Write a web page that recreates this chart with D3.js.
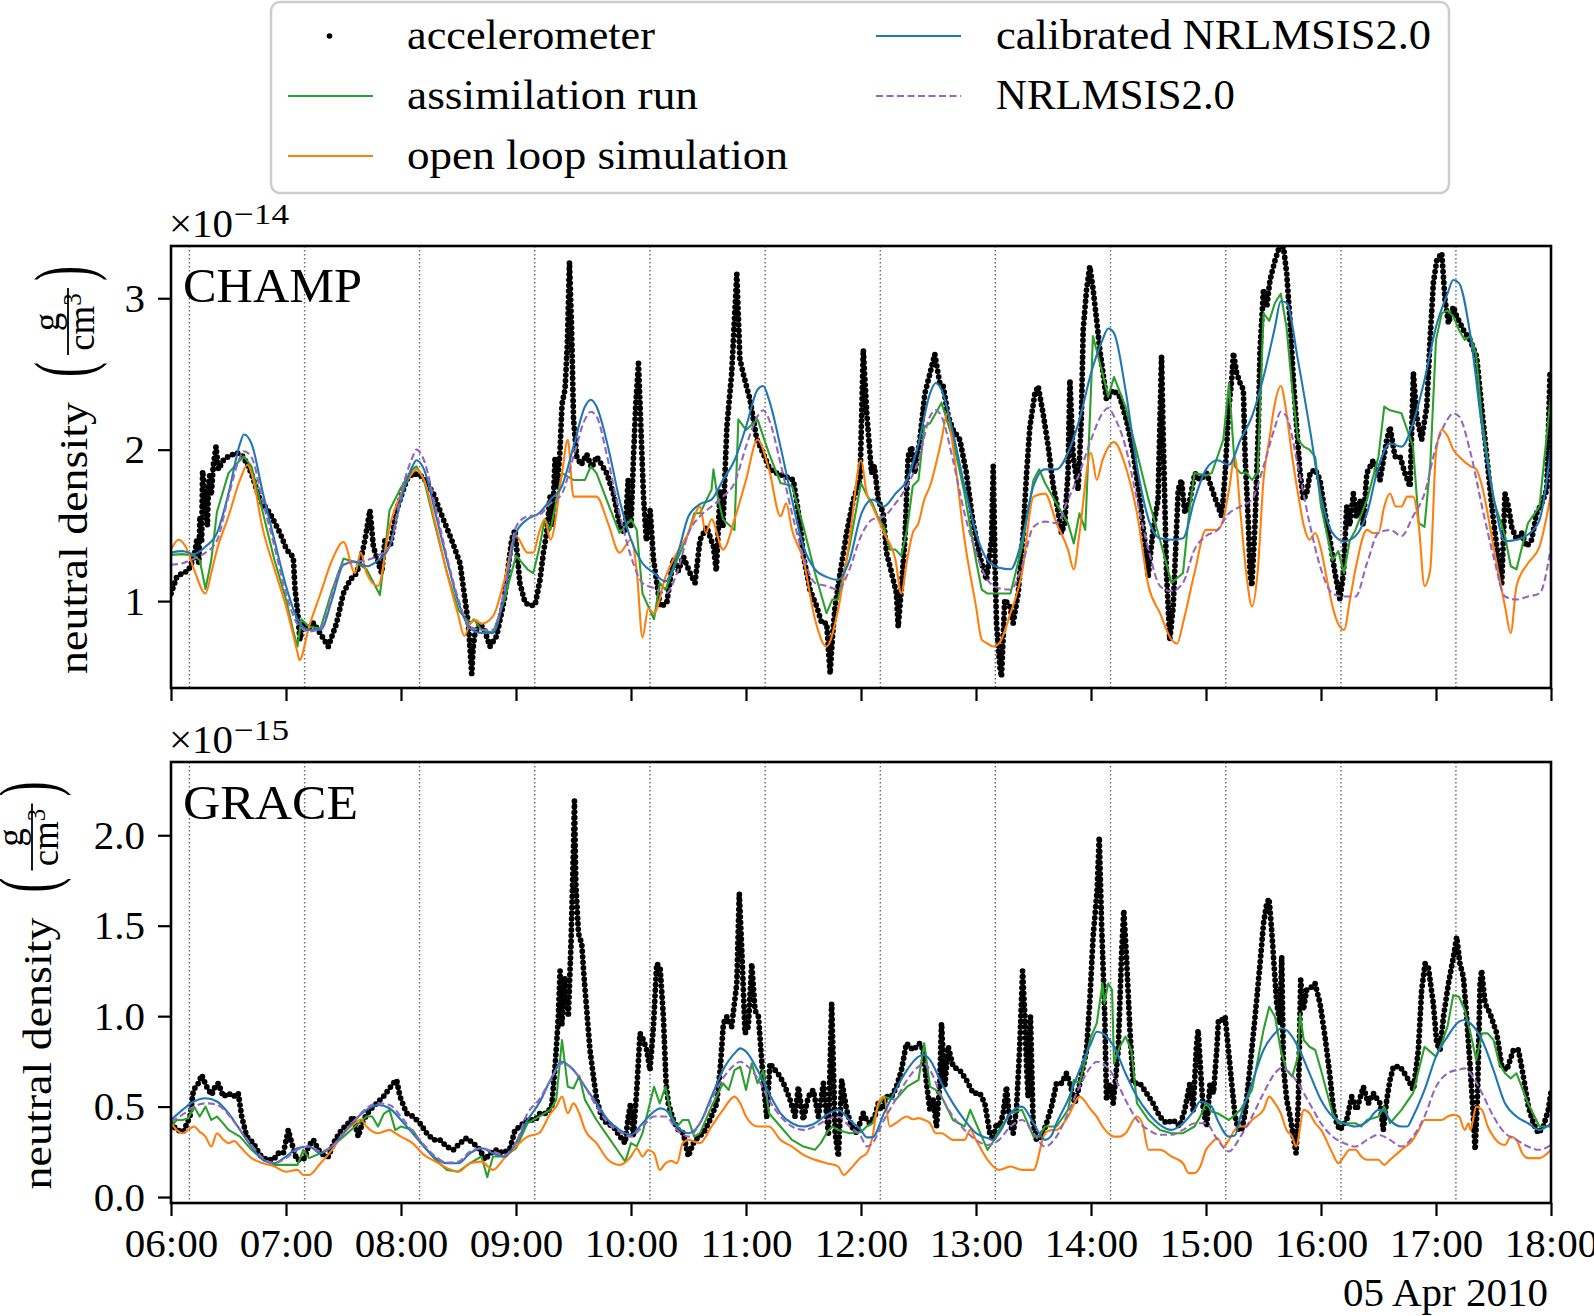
<!DOCTYPE html>
<html><head><meta charset="utf-8">
<script src="https://cdn.jsdelivr.net/npm/d3@7"></script>
<style>
html,body{margin:0;padding:0;background:#fff;}
svg{display:block;font-family:"Liberation Serif","DejaVu Serif",serif;}
</style></head><body>
<svg id="chart" width="1594" height="1316"></svg>
<script>
// ---------------- DATA (time in minutes after 06:00 UTC, 05 Apr 2010) ----------------
const xTickMinutes = [0,60,120,180,240,300,360,420,480,540,600,660,720];
const xTickLabels = ["06:00","07:00","08:00","09:00","10:00","11:00","12:00","13:00","14:00","15:00","16:00","17:00","18:00"];
const dateLabel = "05 Apr 2010";
const orbitMarks = [9.6,69.7,129.7,189.8,249.9,310.0,370.1,430.1,490.2,550.3,610.4,670.4];

const champYTicks = [1,2,3];
const champYTickLabels = ["1","2","3"];
const graceYTicks = [0,0.5,1.0,1.5,2.0];
const graceYTickLabels = ["0.0","0.5","1.0","1.5","2.0"];

const legendLabels = ["accelerometer","assimilation run","open loop simulation","calibrated NRLMSIS2.0","NRLMSIS2.0"];
const seriesColors = {acc:"#000000", assim:"#2ca02c", open:"#ff7f0e", cal:"#1f77b4", msis:"#9467bd"};

// CHAMP (x 1e-14 g/cm3)
const champAccelerometer = [[0,1.05],[3,1.16],[6,1.185],[9,1.20],[12,1.29],[13.4,1.40],[14.5,1.25],[15.1,1.56],[16,1.4],[16.5,1.86],[17.9,1.65],[19,1.5],[19.5,1.75],[20.3,1.845],[21,1.7],[22.1,1.90],[23.5,2.02],[24.7,1.87],[27.3,1.93],[29.9,1.955],[34.3,1.98],[37.7,1.955],[41.9,1.845],[46.4,1.67],[51.6,1.58],[56.9,1.45],[60.3,1.34],[63.8,1.29],[64.7,1.08],[65.9,0.95],[67.3,0.745],[69,0.85],[70.8,0.81],[74.3,0.855],[77.7,0.79],[82.1,0.70],[86.4,0.855],[89.9,1.05],[93.4,1.14],[96.9,1.185],[99.5,1.30],[101.2,1.405],[103.8,1.60],[105.6,1.36],[108.2,1.25],[109.9,1.185],[111.6,1.40],[114.3,1.36],[117.7,1.60],[122.9,1.80],[126.4,1.845],[131.6,1.82],[136.9,1.71],[142.1,1.54],[146.4,1.405],[150.8,1.25],[153.4,1.01],[155.1,0.855],[156.9,0.52],[157.7,0.70],[158.6,0.79],[161.2,0.855],[163.8,0.80],[166.4,0.70],[169.9,0.77],[173.9,1.01],[177.7,1.405],[179.5,1.47],[182,1.12],[184.7,0.99],[187.3,0.97],[190,0.975],[192.5,1.14],[194.3,1.32],[196,1.45],[197.8,1.69],[199,1.5],[200.4,1.95],[201.5,1.75],[203,2.0],[204,2.3],[205.6,2.4],[206.8,2.7],[207.9,3.24],[209,2.8],[210,2.2],[211.7,1.955],[214,1.9],[216.9,1.97],[219.5,1.88],[222.1,1.955],[224.7,1.9],[227.3,1.845],[230.8,1.71],[234.3,1.49],[236.9,1.45],[238.5,1.8],[240,1.5],[241.3,1.95],[242.5,2.3],[243.9,2.57],[245,2.2],[246.5,1.7],[248,1.4],[250,1.6],[251.7,1.28],[255.2,0.965],[258.6,0.985],[262.1,1.28],[264.7,1.2],[267.3,1.295],[270.8,1.185],[273.4,1.12],[276,1.405],[279.5,1.49],[283,1.36],[284.5,1.2],[286.5,1.73],[288,1.5],[290,2.15],[292.5,2.5],[295.2,3.16],[296.8,2.6],[298.6,2.50],[302.1,2.33],[305.6,2.07],[309,1.975],[312.5,1.87],[316,1.845],[321.2,1.82],[324.7,1.80],[328.2,1.515],[330,1.295],[333.4,1.075],[336.9,0.965],[339.5,0.855],[342.1,0.855],[343.9,0.52],[345.2,0.78],[346.5,0.965],[349.1,1.185],[352.5,1.45],[356,1.67],[359.5,1.80],[361.2,2.66],[363,2.24],[365.5,1.845],[367,1.89],[369,1.67],[371.6,1.58],[373.3,1.32],[376,1.185],[378.5,1.05],[379.4,0.83],[381,1.075],[382.9,1.405],[384.6,1.955],[386.4,2.02],[388,1.845],[390.7,2.065],[393.3,2.37],[396,2.505],[398.5,2.63],[401.1,2.44],[402.9,2.42],[405.5,2.22],[408.1,2.13],[411.6,2.065],[415,1.845],[418.5,1.515],[422,1.295],[425.5,1.14],[428.1,1.405],[429,1.89],[430,1.2],[430.7,0.855],[432.4,0.57],[433.3,0.50],[435,1.01],[437.7,0.965],[439.4,0.855],[442,1.05],[444.6,1.45],[446.4,1.845],[448.1,2.15],[450.7,2.37],[452.4,2.42],[455,2.24],[457.7,2.02],[460.3,1.76],[462,1.65],[464.6,1.45],[466.3,1.515],[468,1.845],[469,2.46],[470.7,1.955],[473.3,1.735],[475,2.22],[475.9,2.79],[477.7,3.06],[479.4,3.21],[481.1,3.06],[482.9,2.86],[484.6,2.66],[486.3,2.505],[488.1,2.33],[491.6,2.395],[495,2.35],[498.5,2.195],[502,1.98],[505.5,1.67],[508,1.405],[509.8,1.16],[512.4,1.47],[515,1.67],[516.8,2.615],[517.7,2.07],[519.4,1.185],[521.1,0.745],[522.9,0.965],[525.5,1.735],[527.2,1.80],[529,1.58],[531.6,1.67],[534.2,1.845],[536.8,1.80],[540.4,1.845],[543.9,1.71],[548.2,1.56],[550,1.845],[551.7,2.24],[553.4,2.46],[554.3,2.64],[556,2.505],[557.8,2.44],[559.5,2.395],[560.4,1.955],[562.1,1.515],[563,1.185],[563.9,1.10],[565.6,1.515],[567.3,2.15],[568.2,2.66],[570,3.06],[571.7,2.945],[573.4,3.12],[576,3.25],[577.8,3.32],[580.4,3.34],[582.1,3.165],[583.9,2.835],[585.6,2.46],[587.3,2.15],[589.1,1.845],[590.8,1.67],[592.5,1.71],[594.3,1.845],[596.9,1.87],[599.5,1.80],[602.1,1.58],[604.7,1.405],[607.3,1.185],[609.9,1.01],[611.7,1.185],[613.4,1.625],[615,1.5],[616.9,1.71],[618.5,1.55],[620.4,1.67],[622,1.5],[623.9,1.845],[627.3,1.93],[630.8,1.80],[634.3,2.065],[636,2.15],[638.6,1.955],[641.2,1.955],[643.8,1.845],[646.5,1.755],[648.2,2.505],[649.9,2.22],[652.5,2.065],[655.2,2.285],[656.9,2.725],[658.6,3.10],[660.4,3.25],[663,3.30],[664.7,2.99],[666.5,2.835],[669.1,2.945],[670.8,2.88],[674.3,2.79],[677.8,2.725],[681.2,2.615],[683.8,2.285],[686.5,1.955],[689.1,1.625],[691.7,1.36],[694.3,1.12],[696,1.71],[697.8,1.625],[699.5,1.49],[702.1,1.405],[704.7,1.45],[707.3,1.36],[709.9,1.405],[712.5,1.58],[715.1,1.645],[717.8,1.735],[719.5,2.505]];
const champAssimilation = [[0,1.305],[6,1.31],[12,1.30],[15,1.27],[18,1.08],[21,1.27],[24,1.59],[30,1.845],[36,1.93],[38,1.955],[42,1.89],[48,1.58],[54,1.27],[60,1.01],[64,0.79],[66,0.70],[68,0.88],[72,0.83],[78,0.82],[84,1.07],[90,1.28],[96,1.26],[102,1.21],[109,1.04],[111,1.25],[114,1.60],[120,1.75],[126,1.87],[128,1.89],[132,1.80],[138,1.49],[144,1.185],[150,0.94],[156,0.85],[158,0.88],[162,0.81],[168,0.79],[174,1.01],[180,1.30],[186,1.21],[189,1.185],[192,1.34],[195,1.54],[198,1.47],[204,1.845],[210,1.80],[216,1.80],[219,1.89],[222,1.845],[228,1.645],[234,1.45],[240,1.54],[243,1.47],[246,1.05],[252,0.88],[255,1.12],[258,1.075],[264,1.27],[270,1.45],[273,1.58],[276,1.58],[282,1.735],[283,1.87],[285,1.70],[288,1.54],[294,1.47],[296,2.20],[300,2.13],[306,2.20],[312,1.975],[318,1.78],[324,1.76],[330,1.49],[336,1.185],[342,0.92],[345,1.01],[348,1.01],[354,1.36],[360,1.78],[363,1.70],[366,1.645],[369,1.55],[372,1.49],[375,1.34],[378,1.34],[381,1.30],[384,1.47],[387,1.76],[390,1.80],[393,2.15],[396,2.175],[399,2.24],[402,2.31],[408,2.065],[414,1.71],[420,1.27],[423,1.075],[426,1.05],[432,1.05],[438,1.05],[444,1.36],[450,1.80],[453,1.87],[456,1.78],[462,1.645],[468,1.515],[471,1.38],[474,1.58],[477,1.47],[480,2.395],[481,2.75],[486,2.505],[489,2.35],[492,2.48],[498,2.285],[504,1.98],[510,1.67],[516,1.405],[522,1.12],[528,1.185],[531,1.56],[534,1.845],[540,1.83],[543,1.845],[546,1.955],[549,2.065],[552,2.44],[555,1.89],[558,1.845],[561,1.85],[564,1.80],[567,1.845],[570,2.90],[573,2.85],[576,2.97],[579,3.03],[582,2.81],[585,2.40],[588,2.065],[591,2.02],[594,2.0],[597,1.95],[600,1.625],[603,1.45],[606,1.27],[609,1.33],[612,1.185],[615,1.40],[618,1.47],[624,1.67],[630,1.955],[633,2.285],[636,2.26],[642,2.24],[648,2.02],[651,1.515],[654,1.49],[657,1.90],[660,2.725],[663,2.90],[666,2.92],[669,2.88],[672,2.79],[675,2.725],[678,2.75],[681,2.62],[684,2.195],[690,1.67],[696,1.43],[699,1.23],[702,1.21],[708,1.515],[714,1.625],[720,2.37]];
const champOpenLoop = [[0,1.34],[4,1.405],[8,1.35],[12,1.21],[18,1.05],[21,1.185],[24,1.34],[30,1.56],[36,1.80],[40,1.90],[42,1.845],[48,1.47],[54,1.21],[60,0.965],[66,0.66],[67,0.61],[72,0.83],[78,1.05],[84,1.27],[90,1.39],[96,1.185],[99,1.32],[102,1.185],[108,1.10],[114,1.49],[120,1.71],[126,1.845],[128,1.87],[132,1.80],[138,1.51],[144,1.185],[150,0.90],[153,0.77],[156,0.85],[159,0.875],[162,0.85],[168,0.90],[174,1.14],[180,1.43],[186,1.32],[189,1.32],[192,1.45],[195,1.54],[198,1.405],[204,1.845],[207,2.065],[210,1.69],[216,1.69],[222,1.69],[228,1.515],[234,1.32],[240,1.405],[243,1.20],[246,0.76],[249,0.95],[252,0.92],[258,1.16],[264,1.32],[270,1.45],[276,1.625],[279,1.45],[282,1.54],[288,1.34],[294,1.54],[300,1.80],[306,2.065],[312,1.87],[318,1.56],[321,1.645],[324,1.47],[330,1.27],[336,0.88],[342,0.70],[348,0.94],[354,1.405],[360,1.93],[363,1.71],[366,1.625],[372,1.45],[378,1.27],[381,1.05],[384,1.27],[387,1.45],[390,1.515],[393,1.67],[396,1.76],[402,2.065],[405,2.24],[408,2.02],[414,1.405],[420,0.965],[423,0.745],[426,0.72],[429,0.70],[432,0.72],[438,0.92],[444,1.185],[450,1.69],[456,1.71],[462,1.515],[468,1.34],[471,1.21],[474,1.45],[480,1.98],[483,1.80],[486,1.93],[492,2.05],[498,1.89],[504,1.58],[510,1.10],[516,0.92],[522,0.745],[525,0.72],[528,0.855],[534,1.185],[540,1.47],[543,1.47],[546,1.47],[549,1.54],[552,1.735],[555,1.955],[558,1.58],[561,1.185],[564,0.965],[567,1.2],[570,1.80],[573,2.065],[576,2.31],[579,2.42],[582,2.24],[585,1.95],[588,1.71],[591,1.50],[594,1.405],[597,1.45],[600,1.34],[603,1.15],[606,0.965],[609,0.85],[612,0.81],[615,1.0],[618,1.21],[624,1.47],[627,1.45],[630,1.45],[633,1.625],[636,1.71],[639,1.625],[642,1.625],[645,1.69],[648,1.69],[651,1.50],[654,1.10],[657,1.21],[660,1.98],[663,2.13],[666,2.09],[669,2.0],[672,1.955],[678,1.89],[681,1.87],[684,1.76],[690,1.36],[696,0.965],[699,0.79],[702,1.10],[708,1.25],[714,1.36],[720,1.71]];
const champCalibrated = [[0,1.32],[6,1.33],[12,1.31],[18,1.36],[24,1.45],[30,1.71],[36,2.04],[38,2.10],[42,2.04],[48,1.71],[54,1.40],[60,1.10],[66,0.88],[72,0.81],[78,0.81],[84,1.01],[90,1.24],[96,1.26],[102,1.23],[108,1.27],[114,1.36],[120,1.67],[126,1.89],[128,1.93],[132,1.87],[138,1.58],[144,1.27],[150,0.99],[156,0.82],[162,0.79],[168,0.79],[174,1.05],[180,1.45],[186,1.54],[192,1.58],[198,1.67],[204,1.76],[210,2.02],[216,2.285],[219,2.33],[222,2.285],[228,2.02],[234,1.67],[240,1.405],[246,1.25],[252,1.185],[258,1.13],[264,1.295],[270,1.56],[276,1.64],[282,1.67],[288,1.80],[294,1.93],[300,2.15],[306,2.395],[309,2.42],[312,2.33],[318,2.02],[324,1.67],[330,1.36],[336,1.21],[342,1.16],[348,1.14],[354,1.27],[360,1.57],[366,1.67],[372,1.625],[378,1.71],[384,1.80],[390,2.04],[396,2.37],[399,2.44],[402,2.395],[408,2.11],[414,1.76],[420,1.45],[426,1.27],[432,1.22],[438,1.21],[444,1.405],[450,1.76],[456,1.87],[462,1.87],[468,1.98],[474,2.20],[480,2.505],[486,2.725],[489,2.80],[492,2.77],[498,2.395],[504,1.89],[510,1.54],[516,1.415],[522,1.405],[528,1.415],[534,1.67],[540,1.87],[546,1.93],[552,1.90],[558,2.065],[564,2.22],[570,2.48],[576,2.81],[579,2.98],[582,2.97],[588,2.59],[594,2.15],[600,1.69],[606,1.45],[612,1.395],[618,1.43],[624,1.58],[630,1.89],[636,2.04],[642,2.02],[648,2.175],[654,2.46],[660,2.81],[666,3.03],[669,3.12],[672,3.10],[678,2.75],[684,2.15],[690,1.69],[696,1.395],[702,1.405],[708,1.44],[714,1.535],[720,2.02]];
const champMsis = [[0,1.24],[6,1.25],[12,1.28],[18,1.32],[24,1.40],[30,1.69],[36,1.95],[38,1.99],[42,1.95],[48,1.65],[54,1.36],[60,1.05],[66,0.85],[72,0.80],[78,0.82],[84,1.05],[90,1.25],[96,1.26],[102,1.27],[108,1.30],[114,1.36],[120,1.71],[126,1.95],[128,2.0],[132,1.93],[138,1.62],[144,1.29],[150,1.01],[156,0.83],[162,0.81],[168,0.81],[174,1.07],[180,1.49],[186,1.56],[192,1.57],[198,1.645],[204,1.71],[210,1.955],[216,2.20],[219,2.25],[222,2.22],[228,1.93],[234,1.58],[240,1.295],[246,1.12],[252,1.085],[258,1.05],[264,1.185],[270,1.45],[276,1.56],[282,1.625],[288,1.69],[294,1.78],[300,2.02],[306,2.22],[309,2.26],[312,2.20],[318,1.91],[324,1.58],[330,1.295],[336,1.12],[342,1.10],[348,1.075],[354,1.21],[360,1.43],[366,1.54],[372,1.56],[378,1.645],[384,1.76],[390,1.93],[396,2.22],[399,2.26],[402,2.22],[408,1.93],[414,1.58],[420,1.32],[426,1.14],[432,1.085],[438,1.075],[444,1.23],[450,1.49],[456,1.525],[462,1.515],[468,1.67],[474,1.845],[480,2.065],[486,2.24],[489,2.275],[492,2.22],[498,2.02],[504,1.67],[510,1.34],[516,1.10],[522,1.065],[528,1.12],[534,1.34],[540,1.43],[546,1.47],[552,1.58],[558,1.625],[564,1.67],[570,1.89],[576,2.15],[579,2.25],[582,2.22],[588,1.89],[594,1.515],[600,1.21],[606,1.05],[612,1.03],[618,1.03],[624,1.25],[630,1.45],[636,1.47],[642,1.43],[648,1.56],[654,1.71],[660,2.02],[666,2.20],[669,2.24],[672,2.22],[678,1.98],[684,1.625],[690,1.295],[696,1.03],[702,1.01],[708,1.03],[714,1.05],[720,1.36]];

// GRACE (x 1e-15 g/cm3)
const graceAccelerometer = [[0,0.408],[3,0.371],[6.4,0.36],[9.9,0.445],[11.7,0.592],[14.3,0.629],[16,0.675],[18.6,0.61],[21.2,0.565],[23,0.61],[24.7,0.629],[27.3,0.555],[29.9,0.574],[32.5,0.555],[35.1,0.574],[36.9,0.445],[39.5,0.334],[43,0.298],[46.4,0.233],[49.9,0.206],[53.4,0.206],[56,0.242],[58.6,0.242],[61.2,0.371],[63,0.298],[65.6,0.206],[67.3,0.206],[69.9,0.215],[71.6,0.279],[74.3,0.316],[76.9,0.261],[79.5,0.233],[82.1,0.224],[85.6,0.316],[89,0.371],[92.5,0.408],[95.1,0.445],[97.7,0.334],[100.3,0.426],[103.8,0.482],[107.3,0.518],[110.8,0.555],[113.4,0.592],[116,0.629],[117.7,0.647],[119.5,0.555],[122.9,0.463],[126.4,0.445],[129.9,0.408],[133.4,0.353],[136.9,0.316],[140.3,0.316],[143.8,0.279],[147.3,0.261],[150.8,0.298],[154.2,0.326],[157.7,0.298],[161.2,0.261],[163.8,0.206],[166.4,0.242],[169.9,0.261],[173.4,0.242],[176.9,0.27],[179.5,0.371],[182.1,0.39],[185.6,0.426],[190,0.426],[192.5,0.463],[196,0.463],[198.6,0.50],[200.4,0.721],[202.1,0.997],[203,1.25],[203.9,0.95],[205.6,1.217],[207.3,0.997],[208.7,1.40],[210,1.935],[210.5,2.19],[211.2,1.733],[212.6,1.457],[214.3,1.40],[215.5,1.217],[216.9,1.033],[218.6,0.813],[220.4,0.666],[222.1,0.537],[224.7,0.445],[227.3,0.408],[230.8,0.39],[234.3,0.334],[236.9,0.298],[238.6,0.445],[239.8,0.518],[241.2,0.334],[243,0.592],[244.7,0.905],[246.5,0.868],[248.2,0.813],[249.9,0.702],[251.7,0.942],[253.4,1.29],[255.2,1.27],[256.9,0.997],[258.3,0.629],[259.5,0.518],[262.1,0.426],[264.7,0.371],[267.3,0.353],[269.9,0.224],[272.5,0.298],[275.2,0.334],[277.8,0.353],[281.2,0.426],[284.7,0.518],[286.5,0.702],[288.2,0.96],[290,0.997],[292.5,0.942],[295.2,1.181],[296.5,1.678],[297.8,1.365],[299.5,0.905],[301.2,0.942],[303,1.29],[304.7,1.033],[306.5,0.997],[309.1,0.629],[310.8,0.445],[312.5,0.739],[315.2,0.702],[317.8,0.666],[320.4,0.61],[323,0.537],[325.6,0.445],[327.3,0.61],[329.9,0.426],[332.5,0.555],[335.1,0.592],[337.8,0.445],[340.4,0.629],[343,0.353],[344.7,1.07],[346.5,0.353],[348.2,0.224],[349.9,0.647],[352.5,0.482],[355.1,0.39],[357.8,0.353],[359.4,0.408],[361.1,0.463],[362.9,0.426],[364.6,0.408],[367.2,0.445],[369,0.518],[370.7,0.482],[373.3,0.555],[375.9,0.555],[378.5,0.61],[381.1,0.702],[383.7,0.85],[387.2,0.813],[390.7,0.85],[392.4,0.813],[394.2,0.629],[395.9,0.482],[397.7,0.537],[399.4,0.39],[401.1,0.629],[402,0.96],[403.7,0.61],[405.5,0.831],[408.1,0.721],[411.6,0.70],[415,0.647],[418.5,0.574],[422,0.574],[424.6,0.518],[427.2,0.353],[429,0.316],[430.7,0.408],[432.4,0.39],[434.2,0.463],[435.9,0.61],[437.7,0.408],[439.4,0.353],[441.1,0.482],[442.9,0.85],[444.3,1.25],[445.5,0.997],[446.4,0.721],[447.2,0.55],[448.4,0.997],[449.8,0.408],[451.6,0.316],[454.2,0.334],[456.8,0.408],[459.4,0.50],[462,0.629],[464.6,0.629],[467.2,0.684],[469,0.629],[471.6,0.518],[474.2,0.629],[477.7,0.813],[479.4,1.089],[481.1,1.439],[483.2,1.696],[484.3,1.99],[485.5,1.512],[487.2,0.997],[488.1,0.537],[489.8,0.629],[491.6,0.518],[494.2,0.813],[495.9,1.328],[497.1,1.585],[498.5,1.328],[500.3,0.923],[502,0.629],[505.5,0.629],[509,0.574],[512.4,0.518],[515.9,0.445],[519.4,0.408],[522.9,0.426],[526.3,0.39],[528.9,0.482],[531.6,0.629],[533.3,0.482],[535,0.831],[535.9,0.923],[537.6,0.629],[538.6,0.482],[540.4,0.39],[542.1,0.629],[543.9,0.574],[545.6,0.813],[546.5,0.978],[548.2,0.978],[550,0.997],[551.7,0.813],[553.4,0.629],[555.2,0.445],[556.9,0.371],[558.6,0.371],[560.4,0.463],[563,0.721],[565.6,0.997],[568.2,1.29],[570,1.512],[571.7,1.622],[572.9,1.65],[574.3,1.47],[575.2,1.328],[576.9,1.07],[578.6,0.96],[579.5,1.33],[580.4,0.721],[582.1,0.537],[583.9,0.445],[585.6,0.334],[587,0.242],[588.2,0.537],[589.4,1.2],[590.8,1.034],[592.5,1.144],[595.2,1.162],[596.9,1.181],[599.5,1.07],[602.1,0.887],[604.7,0.666],[606.5,0.482],[608.2,0.408],[609.9,0.371],[613.4,0.426],[616,0.555],[618.6,0.482],[622.1,0.61],[624.7,0.518],[627.3,0.574],[630.8,0.518],[632.5,0.371],[634.3,0.537],[636,0.647],[637.8,0.721],[641.2,0.721],[644.7,0.666],[648.2,0.592],[650.8,0.813],[652.5,1.144],[654.3,1.29],[656,1.27],[658.6,1.07],[660.4,0.85],[662.1,0.813],[663.9,0.997],[666.5,1.181],[669.1,1.328],[670.8,1.438],[672.5,1.29],[674.3,1.217],[676,0.997],[677.8,0.721],[679.5,0.445],[680.4,0.261],[681.6,0.537],[683,1.18],[683.8,1.254],[685.6,1.07],[688.2,1.015],[691.7,0.905],[694.3,0.721],[696.9,0.702],[700.4,0.813],[703,0.813],[705.6,0.666],[708.2,0.50],[710.8,0.408],[713.4,0.353],[716,0.39],[718.6,0.482],[720,0.58]];
const graceAssimilation = [[0,0.39],[3,0.426],[6,0.426],[9,0.436],[12,0.50],[15,0.445],[18,0.50],[21,0.426],[24,0.445],[27,0.41],[30,0.371],[36,0.334],[42,0.261],[48,0.206],[54,0.178],[60,0.178],[66,0.178],[69,0.261],[72,0.215],[78,0.242],[84,0.279],[90,0.334],[96,0.39],[102,0.445],[105,0.445],[108,0.39],[111,0.46],[114,0.482],[117,0.37],[120,0.39],[126,0.371],[132,0.279],[138,0.206],[144,0.15],[150,0.14],[156,0.187],[162,0.224],[165,0.11],[168,0.224],[174,0.224],[180,0.27],[186,0.408],[192,0.445],[198,0.482],[201,0.537],[204,0.868],[207,0.61],[210,0.60],[213,0.67],[216,0.537],[222,0.426],[228,0.334],[234,0.242],[237,0.196],[240,0.298],[243,0.28],[246,0.353],[252,0.61],[255,0.518],[258,0.61],[261,0.45],[264,0.39],[267,0.426],[270,0.426],[273,0.334],[276,0.353],[282,0.50],[288,0.629],[291,0.592],[294,0.702],[297,0.721],[300,0.592],[303,0.739],[306,0.629],[309,0.702],[312,0.463],[318,0.39],[324,0.316],[330,0.279],[336,0.261],[339,0.298],[342,0.353],[345,0.39],[348,0.371],[354,0.353],[360,0.36],[363,0.39],[366,0.408],[369,0.50],[372,0.555],[378,0.537],[384,0.61],[390,0.647],[393,0.85],[396,0.61],[399,0.592],[402,0.555],[408,0.426],[414,0.39],[417,0.482],[420,0.408],[426,0.261],[429,0.307],[432,0.371],[438,0.463],[444,0.482],[450,0.334],[453,0.334],[456,0.39],[462,0.39],[468,0.482],[471,0.647],[474,0.629],[480,0.887],[483,0.96],[486,1.181],[487,1.07],[489,1.181],[491,1.144],[492,0.739],[495,0.831],[498,0.887],[501,0.813],[504,0.518],[510,0.426],[516,0.371],[522,0.353],[528,0.353],[534,0.39],[537,0.445],[540,0.52],[543,0.472],[546,0.463],[552,0.426],[558,0.482],[564,0.592],[570,0.923],[573,1.052],[576,0.997],[579,0.813],[582,0.702],[585,0.666],[588,0.776],[589,1.015],[591,0.868],[594,0.831],[597,0.813],[600,0.702],[606,0.463],[609,0.408],[612,0.408],[618,0.408],[621,0.39],[624,0.426],[630,0.445],[633,0.50],[636,0.408],[642,0.482],[648,0.574],[654,0.831],[660,0.776],[663,0.85],[666,0.942],[669,1.116],[672,1.107],[675,1.034],[678,0.905],[681,0.757],[684,0.905],[687,0.905],[690,0.868],[693,0.739],[696,0.684],[699,0.656],[702,0.684],[708,0.518],[714,0.39],[720,0.39]];
const graceOpenLoop = [[0,0.408],[3,0.371],[6,0.353],[9,0.371],[12,0.39],[15,0.36],[18,0.334],[21,0.279],[24,0.353],[27,0.32],[30,0.298],[33,0.31],[36,0.279],[42,0.215],[48,0.187],[54,0.169],[60,0.14],[66,0.15],[69,0.122],[72,0.122],[78,0.187],[84,0.261],[90,0.353],[96,0.408],[99,0.43],[102,0.39],[108,0.353],[114,0.371],[117,0.353],[120,0.334],[126,0.298],[132,0.233],[138,0.196],[144,0.16],[150,0.14],[156,0.187],[162,0.196],[168,0.15],[174,0.215],[180,0.28],[186,0.334],[192,0.353],[198,0.463],[201,0.50],[204,0.555],[207,0.463],[210,0.518],[213,0.463],[216,0.371],[222,0.298],[228,0.206],[234,0.178],[240,0.224],[243,0.27],[246,0.224],[249,0.26],[252,0.242],[255,0.15],[258,0.187],[261,0.2],[264,0.187],[267,0.298],[270,0.316],[276,0.298],[282,0.39],[288,0.482],[294,0.555],[297,0.518],[300,0.445],[306,0.39],[312,0.39],[318,0.316],[324,0.279],[330,0.233],[336,0.206],[342,0.187],[348,0.169],[351,0.122],[354,0.15],[360,0.22],[363,0.242],[366,0.334],[369,0.518],[372,0.555],[375,0.39],[378,0.408],[384,0.445],[387,0.43],[390,0.436],[393,0.426],[396,0.408],[399,0.353],[402,0.353],[408,0.316],[414,0.316],[417,0.371],[420,0.316],[426,0.206],[432,0.15],[438,0.169],[444,0.15],[450,0.15],[456,0.353],[459,0.37],[462,0.371],[468,0.445],[474,0.555],[480,0.482],[483,0.445],[486,0.39],[489,0.353],[492,0.334],[495,0.334],[498,0.353],[504,0.445],[507,0.40],[510,0.261],[516,0.261],[522,0.224],[528,0.187],[531,0.132],[534,0.132],[537,0.169],[540,0.261],[543,0.30],[546,0.325],[549,0.279],[552,0.316],[555,0.371],[558,0.39],[561,0.39],[564,0.426],[570,0.482],[573,0.555],[576,0.518],[579,0.463],[582,0.371],[585,0.334],[587,0.279],[591,0.482],[594,0.463],[597,0.408],[600,0.371],[606,0.242],[609,0.187],[612,0.224],[615,0.261],[618,0.261],[621,0.224],[624,0.206],[627,0.206],[630,0.206],[633,0.178],[636,0.206],[642,0.261],[648,0.316],[651,0.371],[654,0.426],[660,0.426],[663,0.426],[666,0.445],[669,0.454],[672,0.445],[675,0.371],[677,0.408],[678,0.371],[681,0.50],[684,0.482],[687,0.39],[690,0.334],[693,0.298],[696,0.288],[699,0.334],[702,0.316],[705,0.242],[708,0.215],[714,0.215],[720,0.261]];
const graceCalibrated = [[0,0.426],[6,0.482],[12,0.528],[18,0.546],[24,0.528],[30,0.463],[36,0.371],[42,0.279],[48,0.206],[54,0.187],[60,0.224],[66,0.27],[72,0.279],[78,0.242],[84,0.279],[90,0.353],[96,0.426],[102,0.482],[108,0.509],[114,0.491],[120,0.426],[126,0.353],[132,0.279],[138,0.215],[144,0.187],[150,0.187],[156,0.242],[162,0.27],[168,0.242],[174,0.224],[180,0.30],[186,0.426],[192,0.518],[198,0.647],[204,0.748],[210,0.702],[216,0.61],[222,0.518],[228,0.426],[234,0.371],[240,0.344],[246,0.408],[252,0.472],[255,0.49],[258,0.482],[264,0.39],[270,0.353],[276,0.408],[282,0.555],[288,0.702],[294,0.794],[297,0.822],[300,0.804],[306,0.702],[312,0.574],[318,0.463],[324,0.408],[330,0.39],[336,0.408],[342,0.454],[345,0.472],[348,0.482],[354,0.426],[360,0.37],[363,0.33],[366,0.33],[372,0.463],[378,0.592],[384,0.702],[390,0.776],[393,0.785],[396,0.758],[402,0.629],[408,0.518],[414,0.426],[420,0.353],[426,0.326],[429,0.316],[432,0.353],[438,0.463],[444,0.50],[450,0.408],[456,0.316],[459,0.334],[462,0.408],[468,0.537],[474,0.702],[480,0.85],[483,0.914],[486,0.905],[492,0.831],[498,0.684],[504,0.555],[510,0.463],[516,0.399],[522,0.371],[528,0.408],[534,0.482],[537,0.528],[540,0.52],[543,0.50],[546,0.426],[552,0.334],[555,0.34],[558,0.445],[564,0.629],[570,0.813],[576,0.905],[579,0.932],[582,0.923],[588,0.831],[594,0.684],[600,0.537],[606,0.445],[612,0.408],[618,0.39],[624,0.417],[630,0.482],[633,0.475],[636,0.426],[642,0.39],[645,0.39],[648,0.445],[654,0.592],[660,0.776],[666,0.887],[672,0.97],[675,0.979],[678,0.96],[684,0.868],[690,0.702],[696,0.518],[702,0.445],[708,0.408],[714,0.371],[720,0.408]];
const graceMsis = [[0,0.417],[6,0.455],[12,0.50],[18,0.518],[24,0.51],[30,0.455],[36,0.371],[42,0.288],[48,0.215],[54,0.187],[60,0.215],[66,0.261],[72,0.279],[78,0.252],[84,0.279],[90,0.353],[96,0.426],[102,0.491],[108,0.518],[114,0.509],[120,0.445],[126,0.362],[132,0.288],[138,0.224],[144,0.19],[150,0.196],[156,0.252],[162,0.27],[168,0.252],[174,0.233],[180,0.30],[186,0.463],[192,0.537],[198,0.647],[204,0.739],[210,0.702],[216,0.61],[222,0.50],[228,0.408],[234,0.362],[240,0.334],[246,0.39],[252,0.445],[258,0.445],[264,0.371],[270,0.334],[276,0.408],[282,0.537],[288,0.657],[294,0.73],[297,0.748],[300,0.73],[306,0.657],[312,0.537],[318,0.445],[324,0.39],[330,0.371],[336,0.39],[342,0.426],[348,0.445],[354,0.39],[360,0.334],[363,0.279],[366,0.298],[372,0.426],[378,0.537],[384,0.647],[390,0.721],[393,0.739],[396,0.702],[402,0.555],[408,0.445],[414,0.371],[420,0.316],[426,0.288],[432,0.316],[438,0.39],[444,0.426],[450,0.353],[456,0.279],[462,0.334],[468,0.463],[474,0.61],[480,0.721],[483,0.748],[486,0.739],[492,0.666],[498,0.537],[504,0.426],[510,0.371],[516,0.344],[522,0.344],[528,0.371],[534,0.408],[540,0.408],[546,0.316],[552,0.252],[558,0.334],[564,0.445],[570,0.574],[576,0.684],[579,0.711],[582,0.702],[588,0.629],[594,0.518],[600,0.408],[606,0.334],[612,0.298],[618,0.279],[624,0.316],[630,0.344],[636,0.316],[642,0.279],[648,0.334],[654,0.445],[660,0.61],[666,0.684],[672,0.705],[675,0.711],[678,0.684],[684,0.574],[690,0.445],[696,0.353],[702,0.316],[708,0.279],[714,0.261],[720,0.288]];

// ---------------- DRAWING ----------------
const svg = d3.select("#chart");
const FONT = '"Liberation Serif","DejaVu Serif",serif';
const X0 = 171, X1 = 1551;
const x = d3.scaleLinear().domain([0, 720]).range([X0, X1]);

const panels = [
  {id:"champ", name:"CHAMP", top:246, bottom:688, domain:[0.426,3.345], ticks:champYTicks, tickLabels:champYTickLabels,
   exp:"−14", expBase:237, expSupBase:224, nameBase:302, ylabX:87,
   acc:champAccelerometer, assim:champAssimilation, open:champOpenLoop, cal:champCalibrated, msis:champMsis, xLabels:false},
  {id:"grace", name:"GRACE", top:762, bottom:1203, domain:[-0.033,2.405], ticks:graceYTicks, tickLabels:graceYTickLabels,
   exp:"−15", expBase:753, expSupBase:740, nameBase:819, ylabX:51,
   acc:graceAccelerometer, assim:graceAssimilation, open:graceOpenLoop, cal:graceCalibrated, msis:graceMsis, xLabels:true}
];

panels.forEach(p => {
  const y = d3.scaleLinear().domain(p.domain).range([p.bottom, p.top]);
  const g = svg.append("g");
  const clipId = "clip-" + p.id;
  svg.append("defs").append("clipPath").attr("id", clipId)
    .append("rect").attr("x", X0).attr("y", p.top).attr("width", X1 - X0).attr("height", p.bottom - p.top);

  // orbit marks (dotted verticals)
  g.append("g").selectAll("line").data(orbitMarks).join("line")
    .attr("x1", d => x(d)).attr("x2", d => x(d)).attr("y1", p.top).attr("y2", p.bottom)
    .attr("stroke", "#666").attr("stroke-width", 1.4).attr("stroke-dasharray", "1.4 2.6");

  const plot = g.append("g").attr("clip-path", `url(#${clipId})`);
  const lineLin = d3.line().x(d => x(d[0])).y(d => y(d[1]));
  const lineSmooth = d3.line().x(d => x(d[0])).y(d => y(d[1])).curve(d3.curveMonotoneX);

  // accelerometer: dots along the measured trace
  plot.append("path").datum(p.acc).attr("d", lineLin)
    .attr("fill", "none").attr("stroke", seriesColors.acc).attr("stroke-width", 5.8)
    .attr("stroke-linecap", "round").attr("stroke-linejoin", "round").attr("stroke-dasharray", "0 5.6");
  plot.append("path").datum(p.assim).attr("d", lineLin)
    .attr("fill", "none").attr("stroke", seriesColors.assim).attr("stroke-width", 2.1).attr("stroke-linejoin", "round");
  plot.append("path").datum(p.open).attr("d", lineSmooth)
    .attr("fill", "none").attr("stroke", seriesColors.open).attr("stroke-width", 2.1);
  plot.append("path").datum(p.cal).attr("d", lineSmooth)
    .attr("fill", "none").attr("stroke", seriesColors.cal).attr("stroke-width", 2.1);
  plot.append("path").datum(p.msis).attr("d", lineSmooth)
    .attr("fill", "none").attr("stroke", seriesColors.msis).attr("stroke-width", 2.1).attr("stroke-dasharray", "7 3.5");

  // frame
  g.append("rect").attr("x", X0).attr("y", p.top).attr("width", X1 - X0).attr("height", p.bottom - p.top)
    .attr("fill", "none").attr("stroke", "#000").attr("stroke-width", 2.6);

  // y axis
  const yAxis = d3.axisLeft(y).tickValues(p.ticks).tickFormat((d, i) => p.tickLabels[i]).tickSize(13).tickPadding(13);
  const ya = g.append("g").attr("transform", `translate(${X0},0)`).call(yAxis);
  ya.select(".domain").remove();
  ya.selectAll(".tick line").attr("stroke", "#000").attr("stroke-width", 2.2);
  ya.selectAll(".tick text").attr("font-family", FONT).attr("font-size", 41).attr("fill", "#000");

  // x axis
  const xAxis = d3.axisBottom(x).tickValues(xTickMinutes).tickFormat((d, i) => p.xLabels ? xTickLabels[i] : "").tickSize(13).tickPadding(12);
  const xa = g.append("g").attr("transform", `translate(0,${p.bottom})`).call(xAxis);
  xa.select(".domain").remove();
  xa.selectAll(".tick line").attr("stroke", "#000").attr("stroke-width", 2.2);
  xa.selectAll(".tick text").attr("font-family", FONT).attr("font-size", 41).attr("fill", "#000");

  // offset text  ×10^-n
  g.append("text").attr("x", X0 - 2).attr("y", p.expBase).attr("font-family", FONT).attr("font-size", 41).attr("fill", "#000").text("×10");
  g.append("text").attr("x", X0 + 63).attr("y", p.expSupBase).attr("font-family", FONT).attr("font-size", 30)
    .attr("textLength", 55).attr("lengthAdjust", "spacingAndGlyphs").attr("fill", "#000").text(p.exp);

  // satellite name
  g.append("text").attr("x", 183).attr("y", p.nameBase).attr("font-family", FONT).attr("font-size", 49)
    .attr("textLength", p.id === "champ" ? 179 : 175).attr("lengthAdjust", "spacingAndGlyphs").attr("fill", "#000").text(p.name);

  // y label: neutral density (g / cm^3)
  const cy = (p.top + p.bottom) / 2;
  const lab = g.append("g").attr("transform", `translate(${p.ylabX},${cy + 207}) rotate(-90)`);
  lab.append("text").attr("x", 0).attr("y", 0).attr("font-family", FONT).attr("font-size", 41)
    .attr("textLength", 272).attr("lengthAdjust", "spacingAndGlyphs").attr("fill", "#000").text("neutral density");
  lab.append("g").attr("transform", "translate(297,3) scale(1,1.78)")
    .append("text").attr("font-family", FONT).attr("font-size", 45).attr("fill", "#000").text("(");
  lab.append("text").attr("x", 352).attr("y", -28).attr("text-anchor", "middle").attr("font-family", FONT).attr("font-size", 37).attr("fill", "#000").text("g");
  lab.append("line").attr("x1", 319).attr("x2", 386).attr("y1", -19).attr("y2", -19).attr("stroke", "#000").attr("stroke-width", 1.8);
  const den = lab.append("text").attr("x", 352).attr("y", 7).attr("text-anchor", "middle").attr("font-family", FONT).attr("font-size", 37).attr("fill", "#000");
  den.append("tspan").text("cm");
  den.append("tspan").attr("font-size", 25).attr("dy", -13).text("3");
  lab.append("g").attr("transform", "translate(393,3) scale(1,1.78)")
    .append("text").attr("font-family", FONT).attr("font-size", 45).attr("fill", "#000").text(")");
});

// date label
svg.append("text").attr("x", 1548).attr("y", 1306).attr("text-anchor", "end").attr("font-family", FONT)
  .attr("font-size", 41).attr("fill", "#000").text(dateLabel);

// ---------------- LEGEND ----------------
const leg = svg.append("g");
leg.append("rect").attr("x", 271).attr("y", 2).attr("width", 1178).attr("height", 191).attr("rx", 9)
  .attr("fill", "#fff").attr("fill-opacity", 0.8).attr("stroke", "#cccccc").attr("stroke-width", 2.5);
const legendItems = [
  {key:"acc", label:legendLabels[0], col:0, row:0, len:248},
  {key:"assim", label:legendLabels[1], col:0, row:1, len:291},
  {key:"open", label:legendLabels[2], col:0, row:2, len:381},
  {key:"cal", label:legendLabels[3], col:1, row:0, len:435},
  {key:"msis", label:legendLabels[4], col:1, row:1, len:239}
];
const rowY = [36, 96, 156];
const colHandle = [[288, 373], [876, 961]];
const colText = [407, 996];
legendItems.forEach(it => {
  const yy = rowY[it.row];
  const [h0, h1] = colHandle[it.col];
  if (it.key === "acc") {
    leg.append("circle").attr("cx", (h0 + h1) / 2 - 1).attr("cy", yy).attr("r", 2.8).attr("fill", "#000");
  } else {
    leg.append("line").attr("x1", h0).attr("x2", h1).attr("y1", yy).attr("y2", yy)
      .attr("stroke", seriesColors[it.key]).attr("stroke-width", 2.1)
      .attr("stroke-dasharray", it.key === "msis" ? "7 3.5" : null);
  }
  leg.append("text").attr("x", colText[it.col]).attr("y", yy + 13).attr("font-family", FONT).attr("font-size", 42)
    .attr("textLength", it.len).attr("lengthAdjust", "spacingAndGlyphs").attr("fill", "#000").text(it.label);
});
</script></body></html>
